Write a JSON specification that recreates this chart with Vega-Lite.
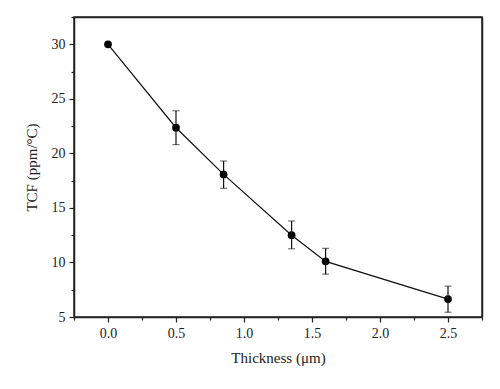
{
  "$schema": "https://vega.github.io/schema/vega-lite/v6.json",
  "autosize": "none",
  "width": 408,
  "height": 300,
  "padding": {"left": 74, "top": 17, "right": 18, "bottom": 72},
  "background": "white",
  "config": {
    "view": {"stroke": "#222", "strokeWidth": 1.5},
    "font": "Liberation Serif",
    "axis": {
      "labelFont": "Liberation Serif",
      "titleFont": "Liberation Serif",
      "labelFontSize": 14,
      "titleFontSize": 15,
      "titleFontWeight": "normal",
      "labelColor": "#222",
      "titleColor": "#222",
      "domainColor": "#222",
      "tickColor": "#222",
      "domainWidth": 1.5,
      "tickWidth": 1.2,
      "grid": false
    }
  },
  "datasets": {
    "pts": [
      {"t": 0.0, "tcf": 30.0},
      {"t": 0.5, "tcf": 22.35},
      {"t": 0.85, "tcf": 18.07},
      {"t": 1.35, "tcf": 12.5},
      {"t": 1.6, "tcf": 10.1},
      {"t": 2.5, "tcf": 6.64}
    ],
    "err": [
      {"t": 0.5, "lo": 20.8, "hi": 23.9},
      {"t": 0.85, "lo": 16.8, "hi": 19.3},
      {"t": 1.35, "lo": 11.25, "hi": 13.8},
      {"t": 1.6, "lo": 8.93, "hi": 11.3},
      {"t": 2.5, "lo": 5.44, "hi": 7.83}
    ]
  },
  "layer": [
    {
      "data": {"name": "pts"},
      "mark": {"type": "line", "color": "#111", "strokeWidth": 1.2},
      "encoding": {
        "x": {
          "field": "t", "type": "quantitative",
          "scale": {"domain": [-0.25, 2.75], "nice": false, "zero": false},
          "axis": {"orient": "bottom", "values": [0, 0.5, 1, 1.5, 2, 2.5], "format": ".1f", "tickSize": 5, "labelPadding": 4, "title": "Thickness (μm)", "titlePadding": 10}
        },
        "y": {
          "field": "tcf", "type": "quantitative",
          "scale": {"domain": [5, 32.5], "nice": false, "zero": false},
          "axis": {"orient": "left", "values": [5, 10, 15, 20, 25, 30], "tickSize": 5, "labelPadding": 4, "title": "TCF (ppm/°C)", "titlePadding": 12}
        }
      }
    },
    {
      "data": {"name": "pts"},
      "mark": {"type": "point", "filled": true, "color": "#000", "opacity": 1, "size": 60},
      "encoding": {
        "x": {"field": "t", "type": "quantitative",
          "axis": {"orient": "bottom", "values": [-0.25, 0.25, 0.75, 1.25, 1.75, 2.25, 2.75], "labels": false, "tickSize": 3, "domain": false, "title": null}},
        "y": {"field": "tcf", "type": "quantitative",
          "axis": {"orient": "left", "values": [7.5, 12.5, 17.5, 22.5, 27.5, 32.5], "labels": false, "tickSize": 3, "domain": false, "title": null}}
      }
    },
    {
      "data": {"name": "err"},
      "mark": {"type": "errorbar", "color": "#111", "ticks": {"size": 7, "color": "#111"}, "rule": {"strokeWidth": 1.2}},
      "encoding": {
        "x": {"field": "t", "type": "quantitative", "axis": {"orient": "top", "labels": false, "ticks": false, "title": null, "domain": true}},
        "y": {"field": "lo", "type": "quantitative", "axis": {"orient": "right", "labels": false, "ticks": false, "title": null, "domain": true}},
        "y2": {"field": "hi"}
      }
    }
  ],
  "resolve": {"axis": {"x": "independent", "y": "independent"}}
}
